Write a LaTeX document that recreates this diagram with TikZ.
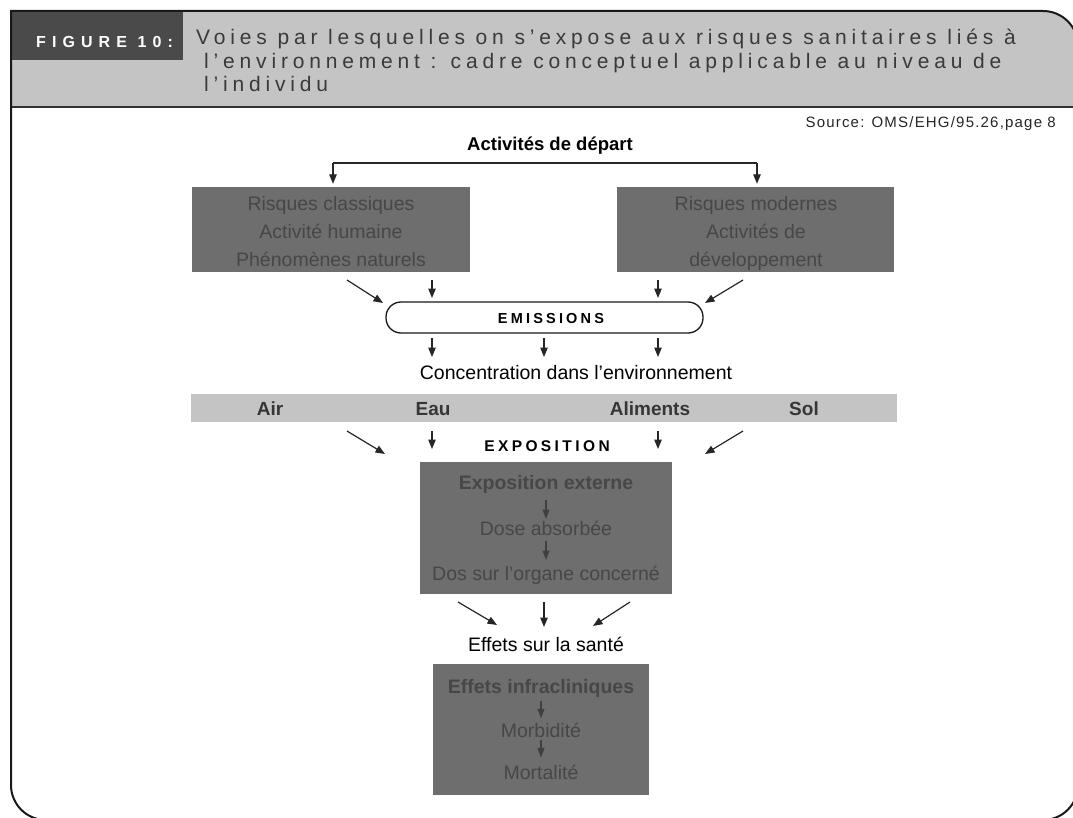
\documentclass[tikz,border=0pt]{standalone}
\usepackage{fontspec}
\setmainfont{Liberation Sans}
\newfontfamily\titlef[LetterSpace=23]{Liberation Sans}
\newfontfamily\figf[LetterSpace=38]{Liberation Sans}
\newfontfamily\srcf[LetterSpace=8]{Liberation Sans}
\newfontfamily\capsf[LetterSpace=22]{Liberation Sans}
\usetikzlibrary{arrows.meta}
\definecolor{bandgray}{HTML}{C4C4C4}
\definecolor{figbox}{HTML}{4A4A4A}
\definecolor{titletext}{HTML}{3A3A3A}
\definecolor{boxfill}{HTML}{6E6E6E}
\definecolor{boxtext}{HTML}{474747}
\definecolor{stripgray}{HTML}{C4C4C4}
\definecolor{striptext}{HTML}{363636}
\definecolor{arrowgray}{HTML}{262626}
\begin{document}
\begin{tikzpicture}[x=1pt,y=-1pt,
  arr/.style={draw=arrowgray, line width=1.2pt, -{Triangle[length=9.5pt,width=7.5pt]}},
  inarr/.style={draw=black!75, line width=1.1pt, -{Triangle[length=9.5pt,width=7pt]}},
  gbox/.style={fill=boxfill, inner sep=0pt},
  boxtxt/.style={font=\fontsize{19.5}{23}\selectfont, text=boxtext, inner sep=0pt, anchor=base},
  boxbold/.style={font=\bfseries\fontsize{19.5}{23}\selectfont, text=boxtext, inner sep=0pt, anchor=base},
  plain/.style={font=\fontsize{19.5}{23}\selectfont, inner sep=0pt, anchor=base},
  striplab/.style={font=\bfseries\fontsize{19}{22}\selectfont, text=striptext, inner sep=0pt, anchor=base},
  titletxt/.style={font=\titlef\fontsize{21}{24}\selectfont, text=titletext, inner sep=0pt, anchor=base west},
  capslab/.style={font=\capsf\bfseries\fontsize{14.5}{16}\selectfont, inner sep=0pt, anchor=base},
  frame/.style={draw=black!90, line width=2pt}
]
\useasboundingbox (0,0) rectangle (1073,818);
\begin{scope}
\clip (0,0) rectangle (1073,818);
% header band
\fill[bandgray] (11,11) -- (1043,11) arc[start angle=-90,end angle=0,radius=35] -- (1078,107) -- (11,107) -- cycle;
\fill[figbox] (11,11) rectangle (183,60);
\draw[line width=2.5pt, black!80] (11,107) -- (1078,107);
% frame
\draw[frame] (11,11) -- (1043,11) arc[start angle=-90,end angle=0,radius=35] -- (1078,785) arc[start angle=0,end angle=90,radius=35] -- (46,820) arc[start angle=90,end angle=180,radius=35] -- cycle;
\end{scope}

\node[font=\figf\bfseries\fontsize{16}{18}\selectfont, text=white, inner sep=0pt, anchor=base west] (fig) at (36,48) {FIGURE 10:};
\node[titletxt] (t1) at (196,45) {Voies par lesquelles on s’expose aux risques sanitaires liés à};
\node[titletxt] (t2) at (204,69) {l’environnement : cadre conceptuel applicable au niveau de};
\node[titletxt] (t3) at (204,92) {l’individu};

\node[font=\srcf\fontsize{15}{17}\selectfont, text=black!85, inner sep=0pt, anchor=base east] (src) at (1056,128) {Source: OMS/EHG/95.26,page 8};

\node[font=\bfseries\fontsize{18.5}{20}\selectfont, inner sep=0pt, anchor=base] (dep) at (550,151) {Activités de départ};

% boxes of activities
\node[gbox, minimum width=278, minimum height=85] (lbox) at (331,229.5) {};
\node[boxtxt] (l1) at (331,211) {Risques classiques};
\node[boxtxt] (l2) at (331,239) {Activité humaine};
\node[boxtxt] (l3) at (331,266) {Phénomènes naturels};
\node[gbox, minimum width=277, minimum height=85] (rbox) at (755.5,229.5) {};
\node[boxtxt] (r1) at (756,211) {Risques modernes};
\node[boxtxt] (r2) at (756,239) {Activités de};
\node[boxtxt] (r3) at (756,266) {développement};

\coordinate (la) at (333,163);
\coordinate (ra) at (757,163);
\draw[line width=1.2pt, arrowgray] (la) -- (ra);
\draw[arr, shorten >=3pt] (la) -- (la |- lbox.north);
\draw[arr, shorten >=3pt] (ra) -- (ra |- rbox.north);

% emissions
\node[draw=black!90, line width=1.3pt, rounded corners=15pt, minimum width=317, minimum height=31, fill=white, inner sep=0pt] (emi) at (544.5,317.5) {};
\node[capslab] (emil) at (551,323.5) {EMISSIONS};

\coordinate (e1s) at (347,280); \coordinate (e1e) at (383,303);
\coordinate (e2s) at (432,280); \coordinate (e2e) at (432,298);
\coordinate (e3s) at (658,280); \coordinate (e3e) at (658,298);
\coordinate (e4s) at (743,280); \coordinate (e4e) at (705,303);
\draw[arr] (e1s) -- (e1e);
\draw[arr] (e2s) -- (e2e);
\draw[arr] (e3s) -- (e3e);
\draw[arr] (e4s) -- (e4e);

\coordinate (c1s) at (432,338); \coordinate (c1e) at (432,357);
\coordinate (c2s) at (544,338); \coordinate (c2e) at (544,357);
\coordinate (c3s) at (658,338); \coordinate (c3e) at (658,357);
\draw[arr] (c1s) -- (c1e);
\draw[arr] (c2s) -- (c2e);
\draw[arr] (c3s) -- (c3e);

\node[plain] (conc) at (576,379) {Concentration dans l'environnement};

% strip
\node[fill=stripgray, minimum width=706, minimum height=28, inner sep=0pt] (strip) at (544,408) {};
\node[striplab] (air) at (270,415) {Air};
\node[striplab] (eau) at (433,415) {Eau};
\node[striplab] (ali) at (650,415) {Aliments};
\node[striplab] (sol) at (804,415) {Sol};

% exposition
\node[capslab, font=\capsf\bfseries\fontsize{15.5}{17}\selectfont] (expl) at (547,451) {EXPOSITION};
\coordinate (x1s) at (347,431); \coordinate (x1e) at (385,454);
\coordinate (x2s) at (432,431); \coordinate (x2e) at (432,449);
\coordinate (x3s) at (658,431); \coordinate (x3e) at (658,449);
\coordinate (x4s) at (743,431); \coordinate (x4e) at (705,454);
\draw[arr] (x1s) -- (x1e);
\draw[arr] (x2s) -- (x2e);
\draw[arr] (x3s) -- (x3e);
\draw[arr] (x4s) -- (x4e);

\node[gbox, minimum width=252, minimum height=132] (expo) at (546,528) {};
\node[boxbold] (ext) at (546,489) {Exposition externe};
\node[boxtxt] (dose) at (546,535) {Dose absorbée};
\node[boxtxt] (org) at (546,580) {Dos sur l'organe concerné};
\draw[inarr] (546,500) -- (546,519);
\draw[inarr] (546,541) -- (546,560);

\coordinate (h1s) at (458,602); \coordinate (h1e) at (497,625);
\coordinate (h2s) at (544,602); \coordinate (h2e) at (544,627);
\coordinate (h3s) at (630,602); \coordinate (h3e) at (593,626);
\draw[arr] (h1s) -- (h1e);
\draw[arr] (h2s) -- (h2e);
\draw[arr] (h3s) -- (h3e);

\node[plain] (sante) at (546,651) {Effets sur la santé};

\node[gbox, minimum width=216, minimum height=131] (eff) at (541,729.5) {};
\node[boxbold] (inf) at (541,693) {Effets infracliniques};
\node[boxtxt] (morb) at (541,737) {Morbidité};
\node[boxtxt] (mort) at (541,779) {Mortalité};
\draw[inarr] (inf.south) ++(0,4) -- ++(0,17);
\draw[inarr] (morb.south) ++(0,3) -- ++(0,17);
\end{tikzpicture}
\end{document}
